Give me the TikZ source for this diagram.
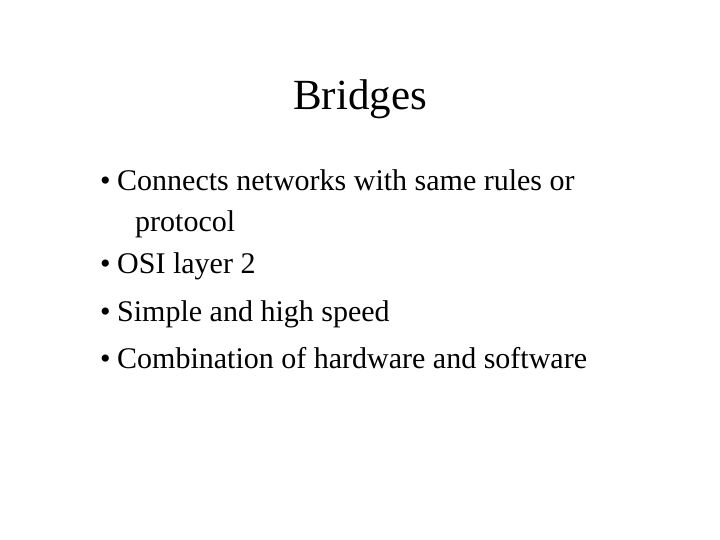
\documentclass[tikz,border=0pt]{standalone}
\usepackage{fontspec}
\setmainfont{Liberation Serif}
\begin{document}
\begin{tikzpicture}[x=1pt,y=-1pt,
  txt/.style={anchor=base west,inner sep=0pt,font=\fontsize{30}{30}\selectfont},
  bul/.style={anchor=base west,inner sep=0pt,font=\fontsize{30}{30}\selectfont}]
\useasboundingbox[fill=white] (0,0) rectangle (720,540);
\node[anchor=base,inner sep=0pt,font=\fontsize{43}{43}\selectfont] (title) at (360,110) {Bridges};
\node[bul] (b1) at (100,191) {•};
\node[txt] (t1) at (117,191) {Connects networks with same rules or};
\node[txt] (t1b) at (135,231) {protocol};
\node[bul] (b2) at (100,273) {•};
\node[txt] (t2) at (117,273) {OSI layer 2};
\node[bul] (b3) at (100,321) {•};
\node[txt] (t3) at (117,321) {Simple and high speed};
\node[bul] (b4) at (100,368) {•};
\node[txt] (t4) at (117,368) {Combination of hardware and software};
\end{tikzpicture}
\end{document}
